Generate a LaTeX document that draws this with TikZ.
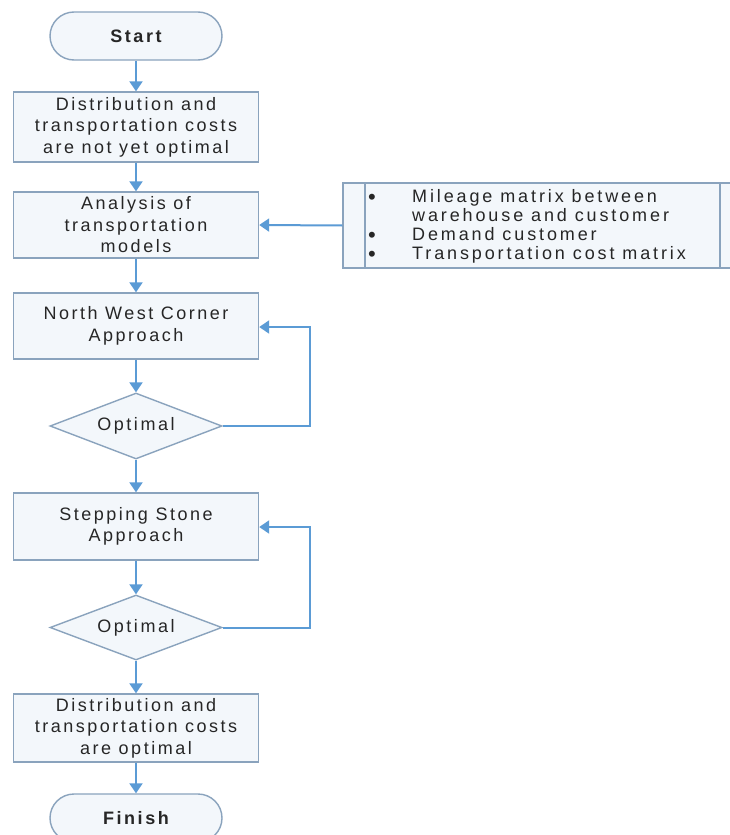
\documentclass[tikz,border=0pt]{standalone}
\usepackage{fontspec}
\setmainfont{Liberation Sans}[LetterSpace=14]
\newfontfamily\annfont{Liberation Sans}[LetterSpace=16]
\usetikzlibrary{arrows.meta,shapes.geometric}
\definecolor{bordc}{HTML}{8AA3BD}
\definecolor{arrc}{HTML}{5B9BD5}
\definecolor{boxfill}{HTML}{F3F7FB}
\definecolor{txtc}{HTML}{262626}
\newcommand{\bigdot}{\raisebox{-2.5pt}[0pt][0pt]{\fontsize{22}{19}\selectfont\textbullet}}
\begin{document}
\begin{tikzpicture}[x=1pt,y=-1pt,
  proc/.style={draw=bordc, line width=1.4pt, fill=boxfill, minimum width=245pt, minimum height=67pt,
    align=center, text=txtc, font=\fontsize{18}{21.5}\selectfont, inner sep=0pt},
  term/.style={draw=bordc, line width=1.4pt, fill=boxfill, rounded corners=24pt, minimum width=172pt,
    minimum height=48pt, text=txtc, font=\fontsize{18}{21}\selectfont\bfseries, inner sep=0pt},
  dec/.style={diamond, draw=bordc, line width=1.4pt, fill=boxfill, shape aspect=2.6, minimum width=172pt,
    minimum height=66pt, text=txtc, font=\fontsize{18}{21}\selectfont, inner sep=0pt},
  annot/.style={draw=bordc, line width=1.4pt, fill=boxfill, inner sep=0pt},
  arr/.style={draw=arrc, line width=2pt, -{Triangle[width=13pt,length=10pt]}},
]
\useasboundingbox (0,0) rectangle (730,835);
\fill[white] (0,0) rectangle (730,835);

\node[term] (start) at (136,36) {Start};
\node[proc, minimum height=70pt] (b1) at (136,127) {Distribution and\\transportation costs\\are not yet optimal};
\node[proc, minimum height=66pt] (b2) at (136,225) {Analysis of\\transportation\\models};
\node[proc, minimum height=66pt] (b3) at (136,326) {North West Corner\\Approach};
\node[dec] (d1) at (136,426) {Optimal};
\node[proc] (b4) at (136,526.5) {Stepping Stone\\Approach};
\node[dec, minimum height=65pt] (d2) at (136,627.5) {Optimal};
\node[proc, minimum height=68pt] (b5) at (136,728) {Distribution and\\transportation costs\\are optimal};
\node[term] (finish) at (136,818) {Finish};

% annotation box
\node[annot, minimum width=397pt, minimum height=85pt] (ann) at (541.5,225.5) {};
\draw[draw=bordc, line width=1.4pt] (365,183) -- (365,268);
\draw[draw=bordc, line width=1.4pt] (720,183) -- (720,268);
\node[anchor=north west, inner sep=0pt, text=txtc, align=left,
  font=\annfont\fontsize{18}{19}\selectfont] (anntext) at (368,188.5)
  {\begin{tabular}{@{}p{44pt}@{}l@{}}
   \bigdot & Mileage matrix between\\
   & warehouse and customer\\
   \bigdot & Demand customer\\
   \bigdot & Transportation cost matrix
   \end{tabular}};

% connectors
\draw[arr] (start) -- (b1);
\draw[arr] (b1) -- (b2);
\draw[arr] (ann.west) -- (b2.east);
\draw[arr] (b2) -- (b3);
\draw[arr] (b3) -- (d1);
\draw[arr] (d1.east) -- (310,426) -- (310,327) -- (b3.east |- 0,327);
\draw[arr] (d1) -- (b4);
\draw[arr] (b4) -- (d2);
\draw[arr] (d2.east) -- (310,627.5) -- (310,527) -- (b4.east |- 0,527);
\draw[arr] (d2) -- (b5);
\draw[arr] (b5) -- (finish);
\end{tikzpicture}
\end{document}
